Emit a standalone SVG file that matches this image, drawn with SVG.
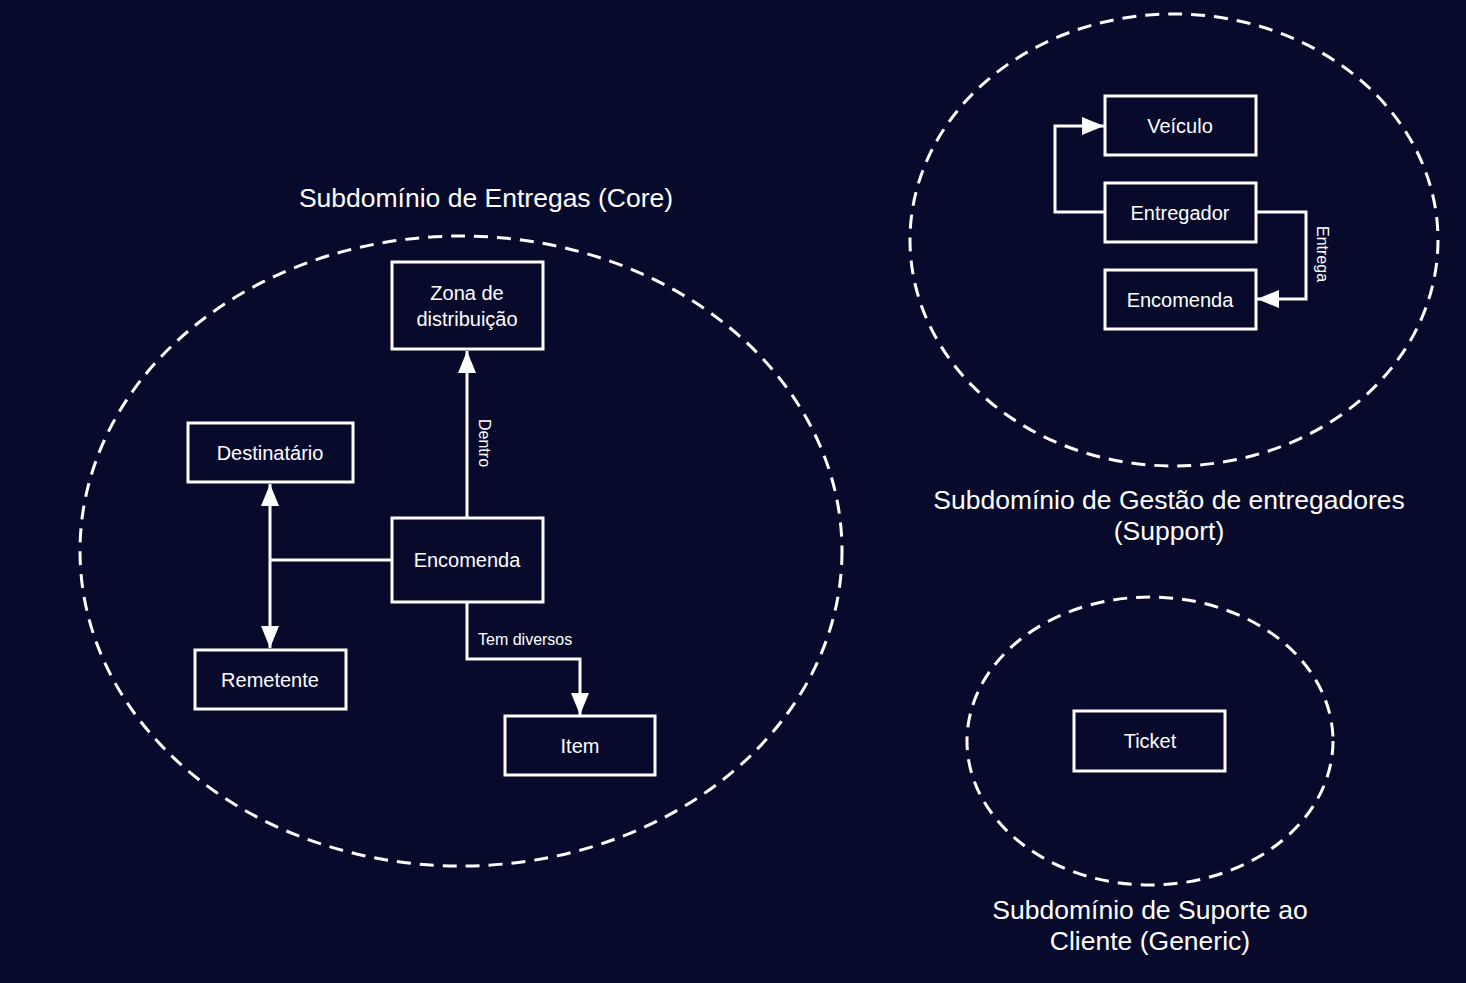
<svg xmlns="http://www.w3.org/2000/svg" width="1466" height="983" viewBox="0 0 1466 983">
<defs>
<marker id="arr" viewBox="0 0 22 18" refX="22" refY="9" markerWidth="22" markerHeight="18" markerUnits="userSpaceOnUse" orient="auto-start-reverse">
<path d="M0,0 L22,9 L0,18 Z" fill="#ffffff"/>
</marker>
<style>
.bg{fill:#070a2b}
.node rect{fill:#070a2b;stroke:#ffffff;stroke-width:3}
.node text{fill:#ffffff;font-family:"Liberation Sans",Arial,sans-serif;font-size:20px;text-anchor:middle;dominant-baseline:central}
.area{fill:none;stroke:#ffffff;stroke-width:3;stroke-dasharray:14 9}
.title{fill:#ffffff;font-family:"Liberation Sans",Arial,sans-serif;font-size:26.5px;text-anchor:middle}
.edge{fill:none;stroke:#ffffff;stroke-width:3}
.lbl{fill:#ffffff;font-family:"Liberation Sans",Arial,sans-serif;font-size:16px}
</style>
</defs>
<rect class="bg" x="0" y="0" width="1466" height="983"/>

<g id="areas">
<ellipse class="area" cx="461" cy="551" rx="381" ry="315"/>
<ellipse class="area" cx="1174" cy="240" rx="264" ry="226"/>
<ellipse class="area" cx="1150" cy="741" rx="183" ry="144"/>
<text class="title" x="486" y="207">Subdomínio de Entregas (Core)</text>
<text class="title" x="1169" y="509">Subdomínio de Gestão de entregadores</text>
<text class="title" x="1169" y="540">(Support)</text>
<text class="title" x="1150" y="919">Subdomínio de Suporte ao</text>
<text class="title" x="1150" y="950">Cliente (Generic)</text>
</g>

<g id="connectors">
<path class="edge" d="M467,518 L467,351" marker-end="url(#arr)"/>
<text class="lbl" transform="translate(479,419) rotate(90)">Dentro</text>
<path class="edge" d="M392,560 L270,560"/>
<path class="edge" d="M270,484 L270,648" marker-start="url(#arr)" marker-end="url(#arr)"/>
<path class="edge" d="M467,602 L467,659 L580,659 L580,715" marker-end="url(#arr)"/>
<text class="lbl" x="478" y="645">Tem diversos</text>
<path class="edge" d="M1105,212 L1055,212 L1055,126 L1104,126" marker-end="url(#arr)"/>
<path class="edge" d="M1256,212 L1306,212 L1306,299 L1257,299" marker-end="url(#arr)"/>
<text class="lbl" transform="translate(1317,226) rotate(90)">Entrega</text>
</g>

<g id="node-zona" class="node"><rect x="392" y="262" width="151" height="87"/><text x="467" y="293">Zona de</text><text x="467" y="319">distribuição</text></g>
<g id="node-destinatario" class="node"><rect x="188" y="423" width="165" height="59"/><text x="270" y="453">Destinatário</text></g>
<g id="node-encomenda-core" class="node"><rect x="392" y="518" width="151" height="84"/><text x="467" y="560">Encomenda</text></g>
<g id="node-remetente" class="node"><rect x="195" y="650" width="151" height="59"/><text x="270" y="680">Remetente</text></g>
<g id="node-item" class="node"><rect x="505" y="716" width="150" height="59"/><text x="580" y="746">Item</text></g>
<g id="node-veiculo" class="node"><rect x="1105" y="96" width="151" height="59"/><text x="1180" y="126">Veículo</text></g>
<g id="node-entregador" class="node"><rect x="1105" y="183" width="151" height="59"/><text x="1180" y="213">Entregador</text></g>
<g id="node-encomenda-support" class="node"><rect x="1105" y="270" width="151" height="59"/><text x="1180" y="300">Encomenda</text></g>
<g id="node-ticket" class="node"><rect x="1074" y="711" width="151" height="60"/><text x="1150" y="741">Ticket</text></g>
</svg>
